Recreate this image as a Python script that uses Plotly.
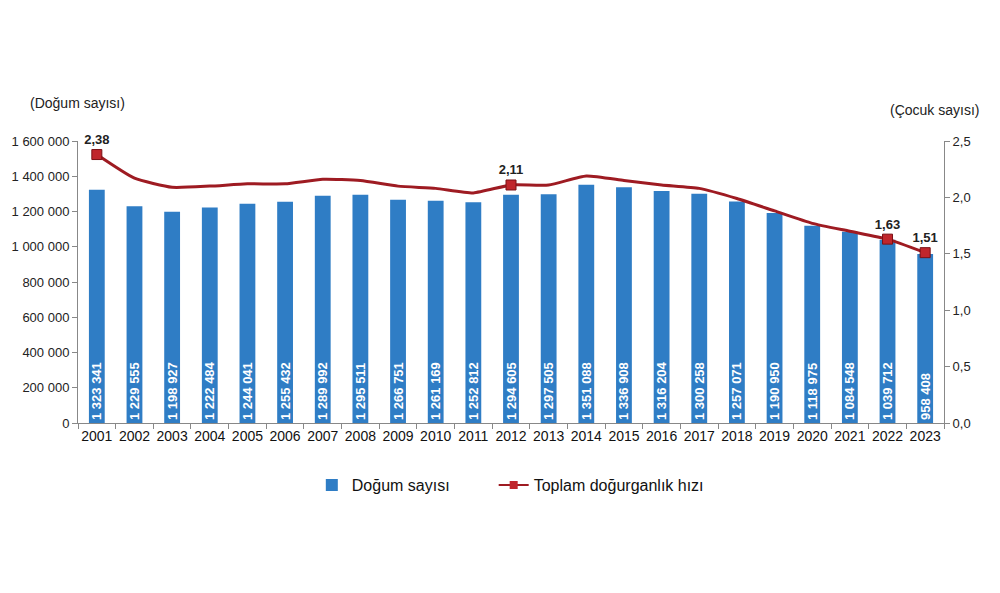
import plotly.graph_objects as go

# TÜİK doğum istatistikleri 2001-2023
years = [str(y) for y in range(2001, 2024)]
births = [1323341, 1229555, 1198927, 1222484, 1244041, 1255432, 1289992, 1295511,
          1266751, 1261169, 1252812, 1294605, 1297505, 1351088, 1336908, 1316204,
          1300258, 1257071, 1190950, 1118975, 1084548, 1039712, 958408]
tfr = [2.38, 2.17, 2.09, 2.10, 2.12, 2.12, 2.16, 2.15, 2.10, 2.08, 2.04, 2.11,
       2.11, 2.19, 2.15, 2.11, 2.08, 1.99, 1.88, 1.77, 1.70, 1.63, 1.51]
marked_years = ['2001', '2012', '2022', '2023']
marked_tfr = [tfr[years.index(y)] for y in marked_years]

left_ticks = [0, 200000, 400000, 600000, 800000, 1000000, 1200000, 1400000, 1600000]
right_ticks = [0, 0.5, 1.0, 1.5, 2.0, 2.5]

bar_color = '#2f7dc5'
line_color = '#9e1b22'
font = 'Liberation Sans, Arial, sans-serif'

fig = go.Figure()

fig.add_trace(go.Bar(
    x=years, y=births, name='Doğum sayısı',
    marker=dict(color=bar_color, line=dict(width=0)),
    width=0.42,
    texttemplate='<b>%{y:,d}</b>', textposition='inside', insidetextanchor='start',
    textangle=-90, textfont=dict(color='white', size=13, family=font),
    constraintext='none', cliponaxis=False,
))

fig.add_trace(go.Scatter(
    x=years, y=tfr, yaxis='y2', mode='lines', showlegend=False,
    line=dict(color=line_color, width=3, shape='spline', smoothing=0.5),
    hoverinfo='skip',
))

fig.add_trace(go.Scatter(
    x=marked_years, y=marked_tfr, yaxis='y2', mode='markers+text', showlegend=False,
    marker=dict(symbol='square', size=10, color='#c0262c', line=dict(color='#7a1015', width=1)),
    texttemplate='<b>%{y:.2f}</b>', textposition='top center',
    textfont=dict(color='#222222', size=13, family=font), cliponaxis=False,
))

# legend entry only
fig.add_trace(go.Scatter(
    x=[None], y=[None], yaxis='y2', mode='lines+markers', name='Toplam doğurganlık hızı',
    line=dict(color=line_color, width=2),
    marker=dict(symbol='square', size=8, color='#c0262c'),
    legend='legend2',
))

legend_style = dict(orientation='h', xanchor='left', y=-0.16, yanchor='top',
                    font=dict(size=16, color='#111111'))

fig.update_layout(
    width=1000, height=593,
    margin=dict(l=78, r=56, t=141, b=170),
    plot_bgcolor='white', paper_bgcolor='white',
    separators=', ',
    font=dict(family=font, size=13, color='#222222'),
    xaxis=dict(
        type='category', range=[-0.5, 22.5], showline=True, linecolor='#888888', linewidth=1,
        ticks='outside', tickson='boundaries', ticklen=5, tickcolor='#888888',
        tickangle=0, tickfont=dict(size=14, color='#111111'), showgrid=False,
    ),
    yaxis=dict(
        range=[0, 1600000], tickvals=left_ticks, tickformat=',d',
        showline=True, linecolor='#888888', linewidth=1,
        ticks='outside', ticklen=5, tickcolor='#888888', showgrid=False,
        zeroline=False, tickfont=dict(size=13, color='#222222'),
    ),
    yaxis2=dict(
        range=[0, 2.5], tickvals=right_ticks, tickformat='.1f',
        overlaying='y', side='right',
        showline=True, linecolor='#888888', linewidth=1,
        ticks='outside', ticklen=5, tickcolor='#888888', showgrid=False,
        zeroline=False, tickfont=dict(size=13, color='#222222'),
    ),
    legend=dict(x=0.27, **legend_style),
    legend2=dict(x=0.48, **legend_style),
    annotations=[
        dict(text='(Doğum sayısı)', xref='paper', yref='paper', x=-0.058, y=1.1,
             xanchor='left', yanchor='bottom', showarrow=False,
             font=dict(size=14, color='#222222')),
        dict(text='(Çocuk sayısı)', xref='paper', yref='paper', x=0.935, y=1.075,
             xanchor='left', yanchor='bottom', showarrow=False,
             font=dict(size=14, color='#222222')),
    ],
)

fig.write_html('out.html', config={'displayModeBar': False},
               post_script="document.body.style.margin='0';")
